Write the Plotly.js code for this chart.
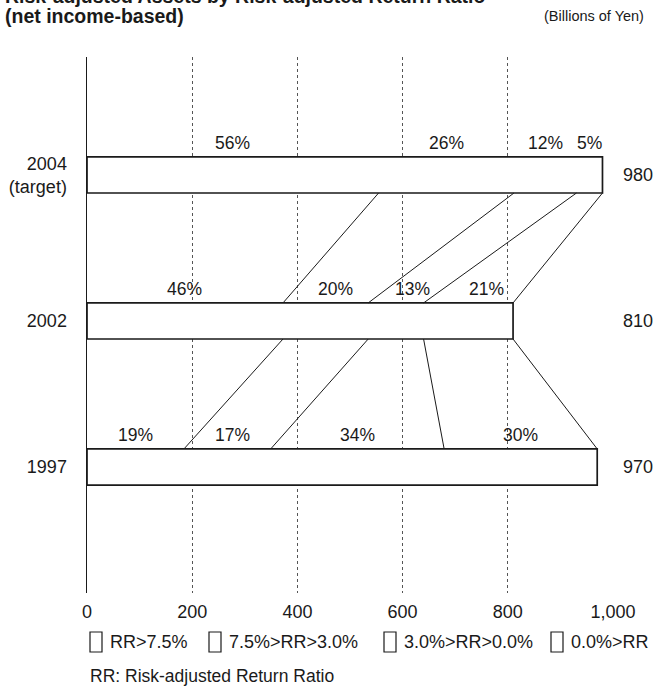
<!DOCTYPE html>
<html>
<head>
<meta charset="utf-8">
<script src="https://cdn.plot.ly/plotly-3.0.1.min.js"></script>
<style>
  html, body { margin: 0; padding: 0; background: #fff; }
  #chart { width: 665px; height: 686px; }
</style>
</head>
<body>
<div id="chart"></div>
<script>
// ---- data ----
const years = ['2004', '2002', '1997'];
const yearLabels = ['2004<br>(target)', '2002', '1997'];
const totals = [980, 810, 970];               // Billions of Yen
const shares2004 = [56, 26, 12, 5];           // % by RR band
const shares2002 = [46, 20, 13, 21];
const shares1997 = [19, 17, 34, 30];
const bands = ['RR>7.5%', '7.5%>RR>3.0%', '3.0%>RR>0.0%', '0.0%>RR'];
const xTicks = [0, 200, 400, 600, 800, 1000];

// ---- layout helpers (positions / styles only) ----
const shares = [shares2004, shares2002, shares1997];
const rowPos = [3, 2, 1];      // vertical slot of each year
const labelShiftPx = [[0, 0, 0, 0], [0, 10, 17, 18], [0, 5, 0, 0]]; // nudges to clear the lines
const barW = 0.247;
const hw = barW / 2;
const FONT = 'Liberation Sans, Arial, Helvetica, sans-serif';
const INK = '#1a1a1a';

function cumBounds(sh, total) {
  const s = sh.reduce((a, b) => a + b, 0);
  let c = 0;
  return sh.map(v => { c += v; return c / s * total; });
}
const bounds = shares.map((sh, i) => cumBounds(sh, totals[i]));

const traces = [];
// bars (single outlined box per year)
traces.push({
  type: 'bar', orientation: 'h',
  x: totals, y: rowPos, width: barW,
  marker: { color: '#ffffff', line: { color: INK, width: 1.7 } },
  hoverinfo: 'skip', showlegend: false
});
// connecting lines between segment boundaries of consecutive rows
for (let r = 0; r < shares.length - 1; r++) {
  for (let k = 0; k < bounds[r].length; k++) {
    traces.push({
      type: 'scatter', mode: 'lines',
      x: [bounds[r][k], bounds[r + 1][k]],
      y: [rowPos[r] - hw, rowPos[r + 1] + hw],
      line: { color: INK, width: 1 },
      hoverinfo: 'skip', showlegend: false
    });
  }
}

const annotations = [];
// percentage labels above each segment
shares.forEach((sh, r) => {
  let start = 0;
  sh.forEach((p, k) => {
    const end = bounds[r][k];
    annotations.push({
      x: (start + end) / 2, xshift: labelShiftPx[r][k],
      y: rowPos[r] + hw, yshift: 14,
      xref: 'x', yref: 'y', text: p + '%', showarrow: false,
      font: { family: FONT, size: 17.5, color: INK }
    });
    start = end;
  });
});
// totals to the right
totals.forEach((t, r) => {
  annotations.push({
    x: 1.015, xref: 'paper', xanchor: 'left', y: rowPos[r], yref: 'y',
    text: String(t), showarrow: false,
    font: { family: FONT, size: 18, color: INK }
  });
});
// title lines
annotations.push({
  x: -0.160, xref: 'paper', xanchor: 'left', y: 1.1138, yref: 'paper', yanchor: 'middle',
  text: '<b>Risk-adjusted Assets by Risk-adjusted Return Ratio</b>', showarrow: false,
  font: { family: FONT, size: 19.5, color: INK }
});
annotations.push({
  x: -0.160, xref: 'paper', xanchor: 'left', y: 1.0765, yref: 'paper', yanchor: 'middle',
  text: '<b>(net income-based)</b>', showarrow: false,
  font: { family: FONT, size: 19.5, color: INK }
});
annotations.push({
  x: 1.063, xref: 'paper', xanchor: 'right', y: 1.0765, yref: 'paper', yanchor: 'middle',
  text: '(Billions of Yen)', showarrow: false,
  font: { family: FONT, size: 14.5, color: INK }
});

// legend (drawn manually: hollow boxes + text)
const shapes = [];
const plotL = 87, plotW = 526, plotT = 57, plotH = 536;
const px2x = p => (p - plotL) / plotW;
const py2y = p => (plotT + plotH - p) / plotH;
const legendBoxX = [90, 209, 384, 551];
bands.forEach((b, i) => {
  shapes.push({
    type: 'rect', xref: 'paper', yref: 'paper',
    x0: px2x(legendBoxX[i]), x1: px2x(legendBoxX[i] + 12),
    y0: py2y(652), y1: py2y(632),
    line: { color: INK, width: 1.2 }, fillcolor: 'rgba(0,0,0,0)'
  });
  annotations.push({
    x: px2x(legendBoxX[i] + 18), xref: 'paper', xanchor: 'left',
    y: py2y(642), yref: 'paper', yanchor: 'middle',
    text: b, showarrow: false,
    font: { family: FONT, size: 18, color: INK }
  });
});
annotations.push({
  x: px2x(88), xref: 'paper', xanchor: 'left',
  y: py2y(676), yref: 'paper', yanchor: 'middle',
  text: 'RR: Risk-adjusted Return Ratio', showarrow: false,
  font: { family: FONT, size: 17.5, color: INK }
});

const layout = {
  width: 665, height: 686,
  margin: { l: plotL, r: 665 - plotL - plotW, t: plotT, b: 686 - plotT - plotH },
  paper_bgcolor: '#fff', plot_bgcolor: '#fff',
  showlegend: false,
  xaxis: {
    range: [0, 1000], tickvals: xTicks, tickformat: ',d',
    showgrid: true, gridcolor: '#555', griddash: 'dot', gridwidth: 1,
    zeroline: false, showline: false, ticks: '', ticklabelstandoff: 6,
    tickfont: { family: FONT, size: 18, color: INK }, fixedrange: true
  },
  yaxis: {
    range: [0.137, 3.808], tickvals: rowPos, ticktext: yearLabels,
    showgrid: false, zeroline: false, showline: true, linecolor: INK, linewidth: 1.5,
    ticks: '', ticklabelstandoff: 15,
    tickfont: { family: FONT, size: 18, color: INK }, fixedrange: true
  },
  annotations: annotations,
  shapes: shapes
};

Plotly.newPlot('chart', traces, layout, { staticPlot: true, displayModeBar: false });
</script>
</body>
</html>
